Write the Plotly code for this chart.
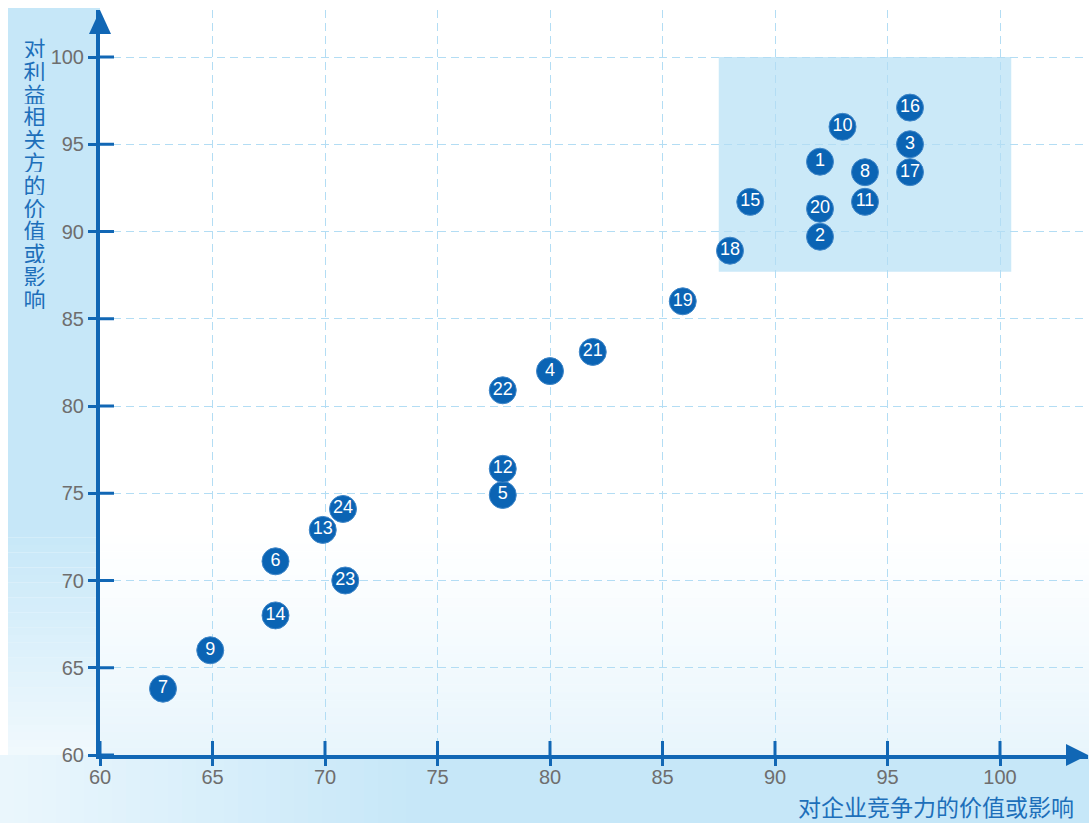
import plotly.graph_objects as go

# ---------------- data ----------------
ids = ["1", "2", "3", "4", "5", "6", "7", "8", "9", "10", "11", "12",
       "13", "14", "15", "16", "17", "18", "19", "20", "21", "22", "23", "24"]
competitiveness = [92, 92, 96, 80, 77.9, 67.8, 62.8, 94, 64.9, 93, 94, 77.9,
                   69.9, 67.8, 88.9, 96, 96, 88, 85.9, 92, 81.9, 77.9, 70.9, 70.8]
stakeholder_value = [94.0, 89.7, 95.0, 82.0, 74.9, 71.1, 63.8, 93.4, 66.0, 96.0, 91.7, 76.4,
                     72.9, 68.0, 91.7, 97.1, 93.4, 88.9, 86.0, 91.3, 83.1, 80.9, 70.0, 74.1]
tick_vals = [60, 65, 70, 75, 80, 85, 90, 95, 100]
x_title = "对企业竞争力的价值或影响"
y_title = "对利益相关方的价值或影响"

# highlight region (data units)
hl_x = (87.5, 100.5)
hl_y = (87.7, 100.0)

# ---------------- style ----------------
W, H = 1089, 823
L, R, T, B = 100, 1088, 10, 755
X_MIN, Y_MIN = 60, 60
PX_PER_X = (1000 - 100) / 40.0
PX_PER_Y = (755 - 57) / 40.0
X_MAX = X_MIN + (R - L) / PX_PER_X
Y_MAX = Y_MIN + (B - T) / PX_PER_Y

BLUE = "#0b64b4"
AXIS_BLUE = "#1167b5"
TITLE_BLUE = "#1d6fba"
LIGHT = "#c6e7f8"
GRID = "#b3ddf4"
TICK_GREY = "#6e6e6e"


def px_x(p):
    return (p - L) / (R - L)


def px_y(p):
    return (B - p) / (B - T)


shapes = []

# left strip (solid part)
shapes.append(dict(type="rect", xref="paper", yref="paper", layer="below",
                   x0=px_x(8), x1=px_x(100), y0=px_y(530), y1=px_y(8),
                   fillcolor=LIGHT, line_width=0))
N = 30
# left strip fading part
for i in range(N):
    ya = 530 + i * (225 / N)
    yb = 530 + (i + 1) * (225 / N)
    op = 1.0 - 0.75 * (i + 0.5) / N
    shapes.append(dict(type="rect", xref="paper", yref="paper", layer="below",
                       x0=px_x(8), x1=px_x(100), y0=px_y(yb), y1=px_y(ya),
                       fillcolor=LIGHT, opacity=op, line_width=0))
# interior bottom gradient
for i in range(N):
    ya = 520 + i * (235 / N)
    yb = 520 + (i + 1) * (235 / N)
    op = 0.42 * ((i + 0.5) / N) ** 1.3
    shapes.append(dict(type="rect", xref="paper", yref="paper", layer="below",
                       x0=px_x(100), x1=px_x(1089), y0=px_y(yb), y1=px_y(ya),
                       fillcolor=LIGHT, opacity=op, line_width=0))
# bottom strip gradient (horizontal)
for i in range(N):
    xa = i * (420 / N)
    xb = (i + 1) * (420 / N)
    op = 0.35 + 0.65 * (i + 0.5) / N
    shapes.append(dict(type="rect", xref="paper", yref="paper", layer="below",
                       x0=px_x(xa), x1=px_x(xb), y0=px_y(823), y1=px_y(755),
                       fillcolor=LIGHT, opacity=op, line_width=0))
shapes.append(dict(type="rect", xref="paper", yref="paper", layer="below",
                   x0=px_x(420), x1=px_x(1089), y0=px_y(823), y1=px_y(755),
                   fillcolor=LIGHT, line_width=0))

# highlight rectangle
shapes.append(dict(type="rect", xref="x", yref="y", layer="below",
                   x0=hl_x[0], x1=hl_x[1], y0=hl_y[0], y1=hl_y[1],
                   fillcolor="#cbe9f8", line_width=0))

# inner halves of tick marks (crossing the axes)
for v in tick_vals:
    shapes.append(dict(type="line", xref="paper", yref="y", xsizemode="pixel", xanchor=0,
                       x0=0, x1=14, y0=v, y1=v, line=dict(color=AXIS_BLUE, width=3)))
    shapes.append(dict(type="line", xref="x", yref="paper", ysizemode="pixel", yanchor=0,
                       y0=0, y1=14, x0=v, x1=v, line=dict(color=AXIS_BLUE, width=3)))

# arrowheads
shapes.append(dict(type="path", xref="paper", yref="paper", xsizemode="pixel", xanchor=0,
                   ysizemode="pixel", yanchor=1,
                   path="M -11 -24 L 11 -24 L 0 0 Z", fillcolor=AXIS_BLUE, line_width=0))
shapes.append(dict(type="path", xref="paper", yref="paper", xsizemode="pixel", xanchor=1,
                   ysizemode="pixel", yanchor=0,
                   path="M -22 -11 L -22 11 L 0 0 Z", fillcolor=AXIS_BLUE, line_width=0))

fig = go.Figure()
fig.add_trace(go.Scatter(
    x=competitiveness, y=stakeholder_value, text=ids,
    mode="markers+text", textposition="middle center",
    marker=dict(size=27, color=BLUE, line=dict(color="#3f86c8", width=1)),
    textfont=dict(family="Liberation Sans, Arial", size=18, color="white"),
    hoverinfo="x+y+text", cliponaxis=False, showlegend=False,
))

annotations = []
# vertical (stacked) y title, one character per annotation
Y_TITLE_TOP, Y_TITLE_STEP = 47, 22.8
for k, ch in enumerate(y_title):
    annotations.append(dict(text=ch, xref="paper", yref="paper",
                            x=px_x(34), y=px_y(Y_TITLE_TOP + k * Y_TITLE_STEP),
                            xanchor="center", yanchor="middle", showarrow=False,
                            height=22, width=23,
                            font=dict(family="Noto Sans CJK SC", size=22, color=TITLE_BLUE)))
annotations.append(dict(text=x_title, xref="paper", yref="paper",
                        x=px_x(1076), y=px_y(806), xanchor="right", yanchor="middle",
                        showarrow=False,
                        font=dict(family="Noto Sans CJK SC", size=23, color=TITLE_BLUE)))

axis_common = dict(
    tickvals=tick_vals, ticks="outside", tickwidth=3, tickcolor=AXIS_BLUE,
    showline=True, linecolor=AXIS_BLUE, linewidth=4,
    showgrid=True, gridcolor=GRID, gridwidth=1, griddash="8px,5px",
    zeroline=False, tickfont=dict(family="Liberation Sans, Arial", size=20, color=TICK_GREY),
    fixedrange=True,
)

fig.update_layout(
    width=W, height=H,
    margin=dict(l=L, r=W - R, t=T, b=H - B),
    paper_bgcolor="white", plot_bgcolor="rgba(0,0,0,0)",
    xaxis=dict(range=[X_MIN, X_MAX], ticklen=7, ticklabelstandoff=-6, **axis_common),
    yaxis=dict(range=[Y_MIN, Y_MAX], ticklen=8, **axis_common),
    shapes=shapes, annotations=annotations,
)

fig.write_html("out.html", config={"displayModeBar": False},
               post_script="document.body.style.margin='0';")
